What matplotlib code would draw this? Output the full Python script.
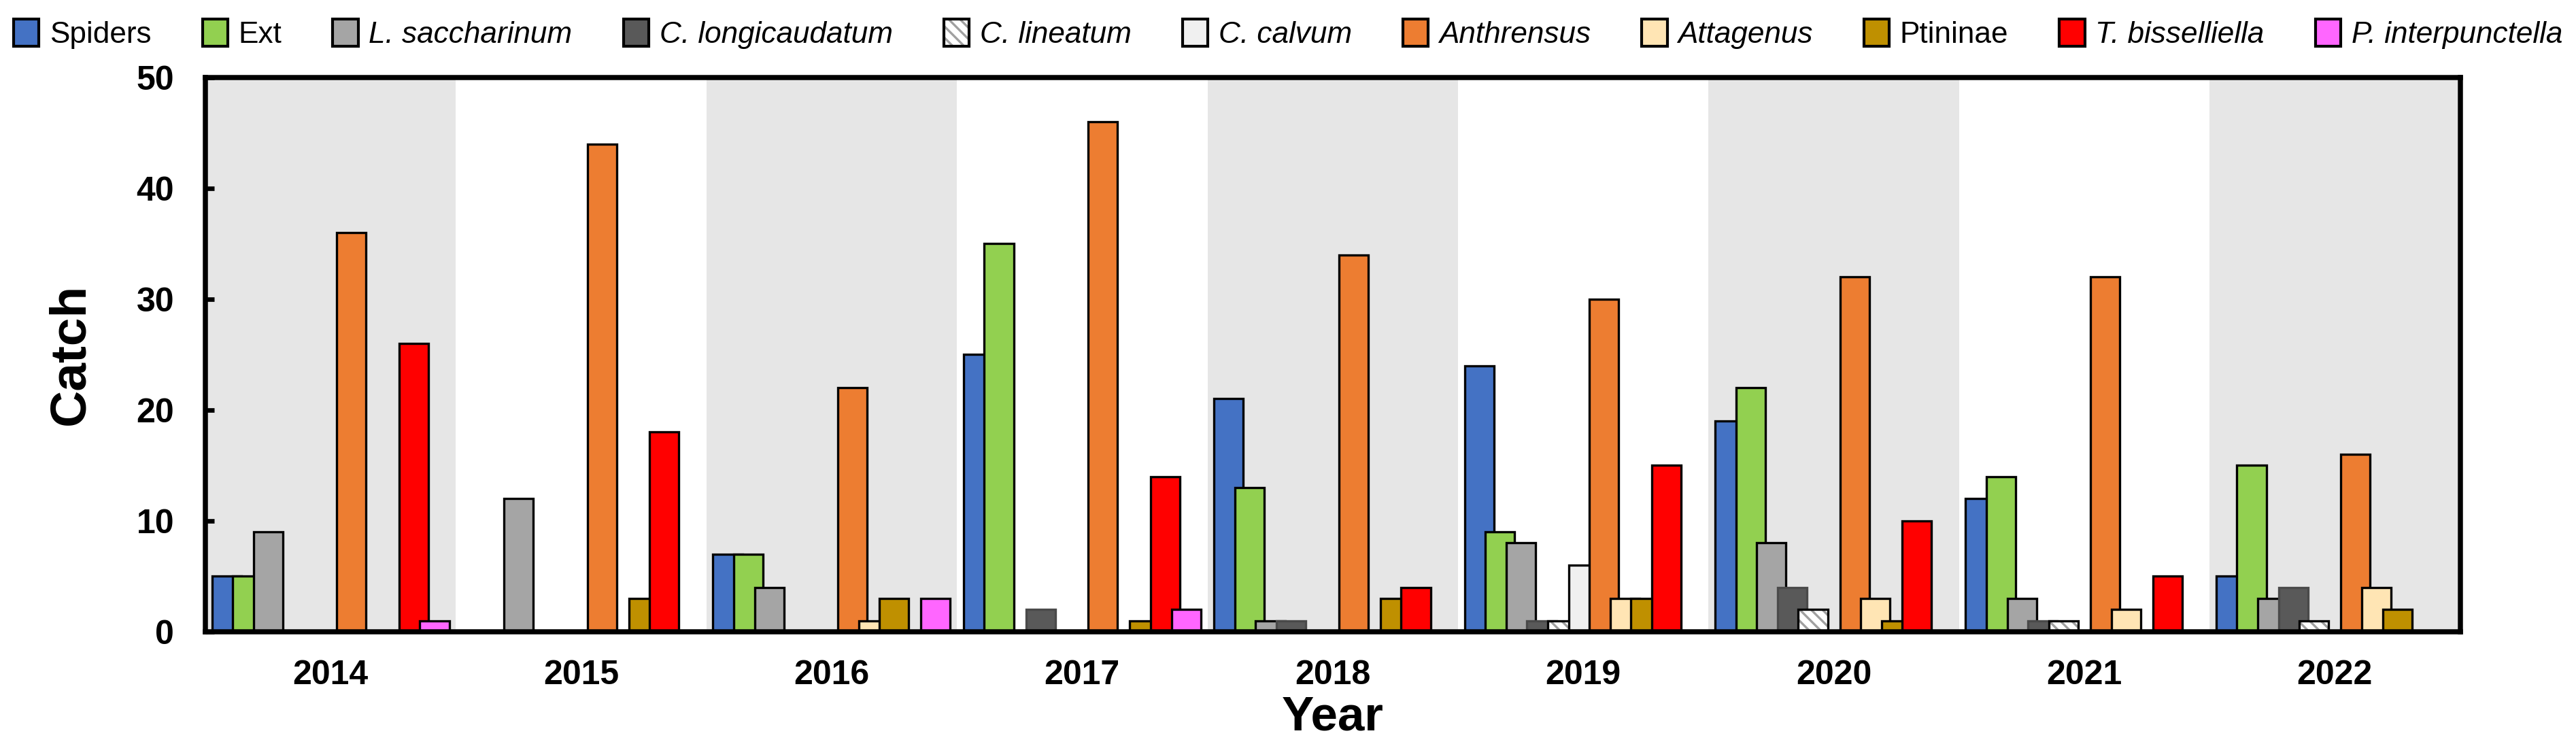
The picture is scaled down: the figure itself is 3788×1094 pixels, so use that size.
import numpy as np
import matplotlib
matplotlib.use("Agg")
import matplotlib.pyplot as plt
import matplotlib.patches as mpatches

plt.rcParams['font.family'] = ['Liberation Sans', 'DejaVu Sans']
plt.rcParams['hatch.linewidth'] = 0.8

years = ['2014', '2015', '2016', '2017', '2018', '2019', '2020', '2021', '2022']
series_names = ['Spiders', 'Ext', 'L. saccharinum', 'C. longicaudatum', 'C. lineatum',
                'C. calvum', 'Anthrensus', 'Attagenus', 'Ptininae', 'T. bisselliella',
                'P. interpunctella']
italic_names = {'L. saccharinum', 'C. longicaudatum', 'C. lineatum', 'C. calvum',
                'Anthrensus', 'Attagenus', 'T. bisselliella', 'P. interpunctella'}

spiders = [5, 0, 7, 25, 21, 24, 19, 12, 5]
ext = [5, 0, 7, 35, 13, 9, 22, 14, 15]
l_saccharinum = [9, 12, 4, 0, 1, 8, 8, 3, 3]
c_longicaudatum = [0, 0, 0, 2, 1, 1, 4, 1, 4]
c_lineatum = [0, 0, 0, 0, 0, 1, 2, 1, 1]
c_calvum = [0, 0, 0, 0, 0, 6, 0, 0, 0]
anthrensus = [36, 44, 22, 46, 34, 30, 32, 32, 16]
attagenus = [0, 0, 1, 0, 0, 3, 3, 2, 4]
ptininae = [0, 3, 3, 1, 3, 3, 1, 0, 2]
t_bisselliella = [26, 18, 0, 14, 4, 15, 10, 5, 0]
p_interpunctella = [1, 0, 3, 2, 0, 0, 0, 0, 0]

all_series = [spiders, ext, l_saccharinum, c_longicaudatum, c_lineatum, c_calvum,
              anthrensus, attagenus, ptininae, t_bisselliella, p_interpunctella]

colors = ['#4472C4', '#92D050', '#A5A5A5', '#595959', '#FFFFFF', '#F0F0F0',
          '#ED7D31', '#FFE5B4', '#BF9000', '#FF0000', '#FF66FF']

fig = plt.figure(figsize=(3788 / 300, 1094 / 300), dpi=300)
ax = fig.add_axes([0.0797, 0.151, 0.8753, 0.745])

x = np.arange(len(years))
# alternating background bands
for i in range(len(years)):
    if i % 2 == 0:
        ax.axvspan(i - 0.5, i + 0.5, color='#E6E6E6', lw=0, zorder=0)

hatch = '\\\\\\\\\\\\'
n = len(all_series)
spacing = 0.083
width = 0.117
handles = []
for k, (vals, col, name) in enumerate(zip(all_series, colors, series_names)):
    pos = x + (k - (n - 1) / 2) * spacing
    if name == 'C. lineatum':
        ax.bar(pos, vals, width, color='white', edgecolor='#A0A0A0', hatch=hatch,
               linewidth=0, zorder=1)
        ax.bar(pos, vals, width, facecolor='none', edgecolor='black', linewidth=0.8, zorder=1)
        handles.append((mpatches.Patch(facecolor='white', edgecolor='#A0A0A0', hatch=hatch, lw=0),
                        mpatches.Patch(facecolor='none', edgecolor='black', lw=1.0)))
    elif name == 'C. longicaudatum':
        ax.bar(pos, vals, width, color=col, edgecolor='#4A4A4A', linewidth=0.8, zorder=1)
        handles.append(mpatches.Patch(facecolor=col, edgecolor='black', lw=1.0))
    else:
        ax.bar(pos, vals, width, color=col, edgecolor='black', linewidth=0.8, zorder=1)
        handles.append(mpatches.Patch(facecolor=col, edgecolor='black', lw=1.0))

ax.set_xlim(-0.5, len(years) - 0.5)
ax.set_ylim(0, 50)
ax.set_yticks([0, 10, 20, 30, 40, 50])
ax.set_xticks(x)
ax.set_xticklabels(years)
ax.tick_params(axis='x', length=0, pad=10, labelsize=12)
ax.tick_params(axis='y', direction='in', length=3, width=1.6, pad=11, labelsize=12)
for lab in ax.get_xticklabels() + ax.get_yticklabels():
    lab.set_fontweight('bold')
for sp in ax.spines.values():
    sp.set_linewidth(1.8)
    sp.set_color('black')
    sp.set_zorder(3)

ax.set_ylabel('Catch', fontsize=18, fontweight='bold', va='center')
ax.yaxis.set_label_coords(-0.0597, 0.5)
ax.set_xlabel('Year', fontsize=17, fontweight='bold', va='center')
ax.xaxis.set_label_coords(0.5, -0.155)

leg = fig.legend(handles, series_names, loc='center', bbox_to_anchor=(0.5, 0.954),
                 ncol=11, frameon=False, fontsize=10.6, handlelength=0.85, handleheight=1.0,
                 handletextpad=0.35, columnspacing=1.7, borderaxespad=0, borderpad=0)
for t, name in zip(leg.get_texts(), series_names):
    if name in italic_names:
        t.set_style('italic')

fig.savefig('out.png', dpi=300)
